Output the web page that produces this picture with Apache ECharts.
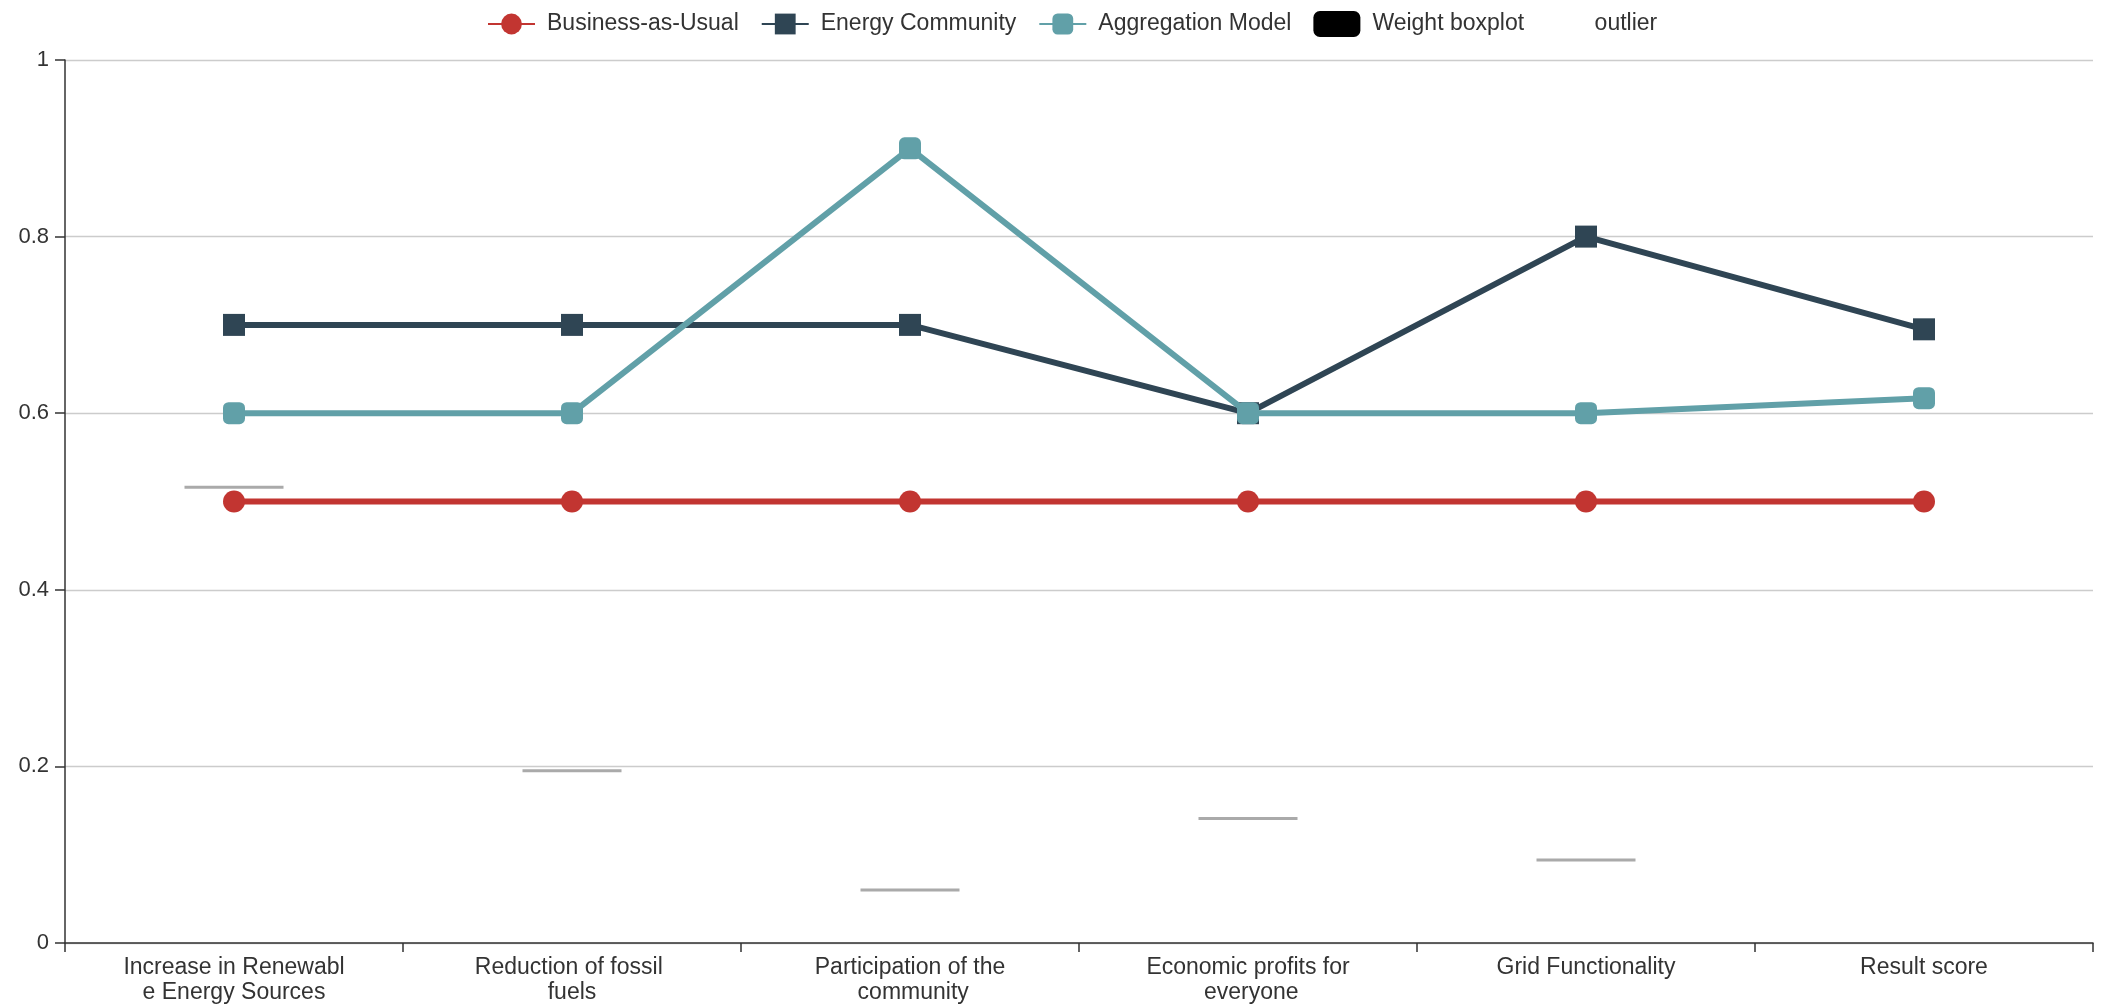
<!DOCTYPE html>
<html>
<head>
<meta charset="utf-8">
<title>Scenario comparison</title>
<script src="https://cdn.jsdelivr.net/npm/echarts@6/dist/echarts.min.js"></script>
<style>
  html, body { margin: 0; padding: 0; background: #fff; }
  #chart { width: 2101px; height: 1007px; }
</style>
</head>
<body>
<div id="chart"></div>
<script>
// Criteria along the x axis
const categories = [
  'Increase in Renewable Energy Sources',
  'Reduction of fossil fuels',
  'Participation of the community',
  'Economic profits for everyone',
  'Grid Functionality',
  'Result score'
];

// Scores of each scenario per criterion
const businessAsUsual = [0.5, 0.5, 0.5, 0.5, 0.5, 0.5];
const energyCommunity = [0.7, 0.7, 0.7, 0.6, 0.8, 0.695];
const aggregationModel = [0.6, 0.6, 0.9, 0.6, 0.6, 0.617];

// Criterion weights (no weight for the result score)
const weights = [0.516, 0.195, 0.06, 0.141, 0.094];

// Y axis ticks
const yTicks = { min: 0, max: 1, interval: 0.2 };

const FONT = 'Liberation Sans, Arial, sans-serif';

// Boxplot rows: every statistic equals the weight, drawn as a flat bar
const weightBoxes = weights.map(w => [w, w, w, w, w]);

// Category names are wrapped every 20 characters
function wrap20(name) {
  const parts = [];
  for (let i = 0; i < name.length; i += 20) parts.push(name.slice(i, i + 20));
  return parts.join('\n');
}

const chart = echarts.init(document.getElementById('chart'), null, { renderer: 'canvas' });

chart.setOption({
  animation: false,
  color: ['#c23531', '#2f4554', '#61a0a8', '#000000', '#d48265'],
  textStyle: { fontFamily: FONT },
  legend: {
    top: 6,
    left: 482,
    itemWidth: 47,
    itemHeight: 26,
    itemGap: 22,
    textStyle: { fontSize: 23, color: '#333', fontFamily: FONT, padding: [0, 0, 0, 7] },
    data: [
      'Business-as-Usual',
      'Energy Community',
      'Aggregation Model',
      { name: 'Weight boxplot', icon: 'roundRect', itemStyle: { color: '#000', borderWidth: 0 } },
      { name: 'outlier', itemStyle: { color: 'rgba(0,0,0,0)', borderWidth: 0 } }
    ]
  },
  grid: { left: 65, right: 8, top: 60, bottom: 64, containLabel: false },
  xAxis: {
    type: 'category',
    data: categories,
    boundaryGap: true,
    axisLine: { show: true, lineStyle: { color: '#333', width: 1.5 } },
    axisTick: { show: true, length: 9, alignWithLabel: false, lineStyle: { color: '#333', width: 1.5 } },
    axisLabel: {
      interval: 0,
      margin: 12,
      fontSize: 23,
      lineHeight: 25,
      color: '#333',
      fontFamily: FONT,
      formatter: wrap20
    },
    splitLine: { show: false }
  },
  yAxis: {
    type: 'value',
    min: yTicks.min,
    max: yTicks.max,
    interval: yTicks.interval,
    axisLine: { show: true, lineStyle: { color: '#333', width: 1.5 } },
    axisTick: { show: true, length: 10, lineStyle: { color: '#333', width: 1.5 } },
    axisLabel: { fontSize: 22, color: '#333', margin: 16, fontFamily: FONT },
    splitLine: { show: true, lineStyle: { color: '#ccc', width: 1.3 } }
  },
  series: [
    {
      name: 'Weight boxplot',
      type: 'boxplot',
      data: weightBoxes,
      boxWidth: [99, 99],
      z: 1,
      itemStyle: { color: '#000', borderColor: '#aaa', borderWidth: 3 }
    },
    {
      name: 'outlier',
      type: 'scatter',
      data: []
    },
    {
      name: 'Business-as-Usual',
      type: 'line',
      data: businessAsUsual,
      symbol: 'circle',
      symbolSize: 22,
      lineStyle: { width: 6, color: '#c23531' },
      itemStyle: { color: '#c23531' },
      z: 3
    },
    {
      name: 'Energy Community',
      type: 'line',
      data: energyCommunity,
      symbol: 'rect',
      symbolSize: 22,
      lineStyle: { width: 6, color: '#2f4554' },
      itemStyle: { color: '#2f4554' },
      z: 4
    },
    {
      name: 'Aggregation Model',
      type: 'line',
      data: aggregationModel,
      symbol: 'roundRect',
      symbolSize: 22,
      lineStyle: { width: 6, color: '#61a0a8' },
      itemStyle: { color: '#61a0a8' },
      z: 5
    }
  ]
});
</script>
</body>
</html>
